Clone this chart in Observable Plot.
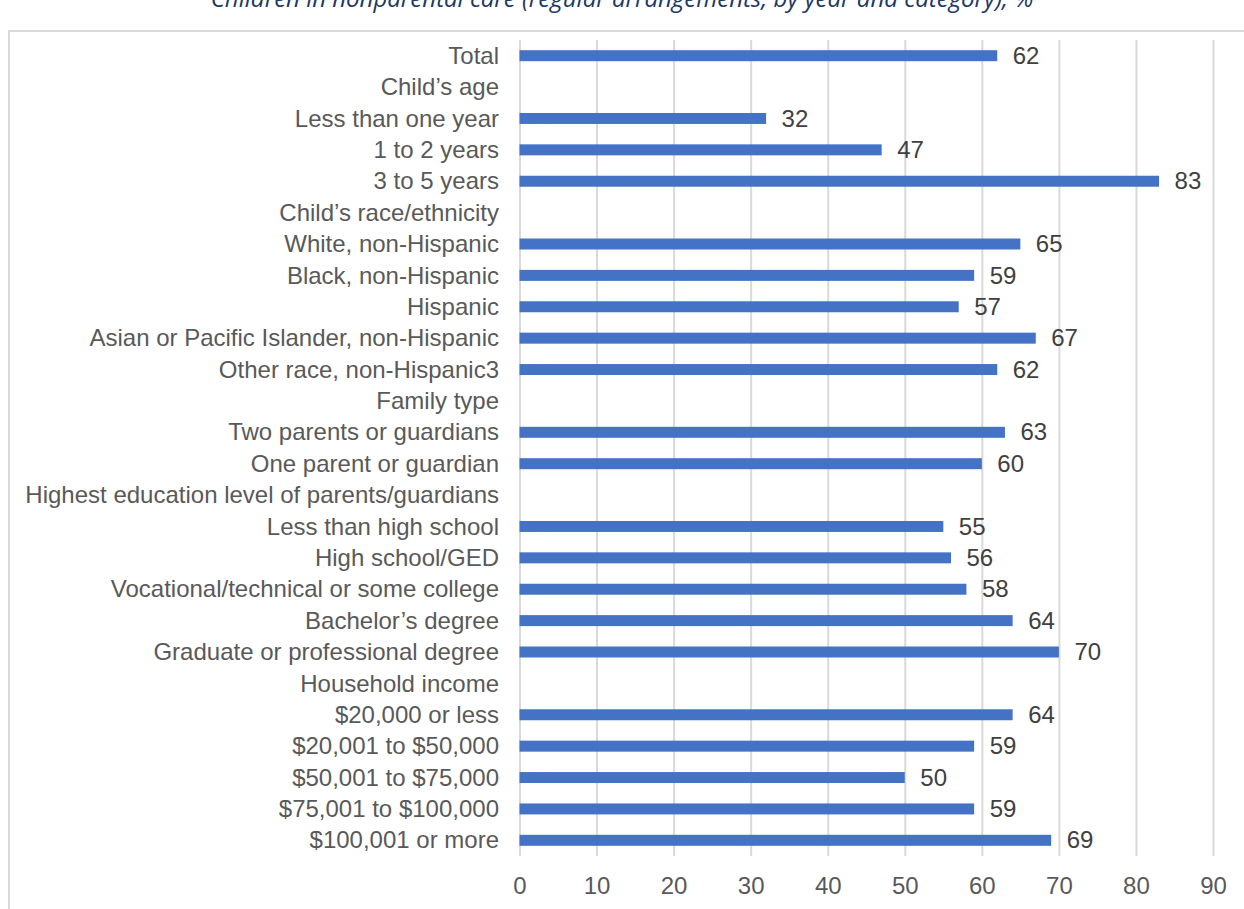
<!DOCTYPE html>
<html>
<head>
<meta charset="utf-8">
<script src="https://cdn.jsdelivr.net/npm/d3@7"></script>
<script src="https://cdn.jsdelivr.net/npm/@observablehq/plot@0.6"></script>
<style>
  html, body { margin: 0; padding: 0; background: #fff; overflow: hidden; }
  #wrap { position: relative; width: 1244px; height: 909px; overflow: hidden; }
  #title { position: absolute; left: 0; width: 1244px; top: -19px; text-align: center;
           font-family: "Open Sans", "Liberation Sans", sans-serif; font-style: italic;
           font-size: 24px; color: #203864; white-space: nowrap; }
  #frame { position: absolute; left: 8px; top: 30px; width: 1260px; height: 900px;
           border: 2px solid #d9d9d9; box-sizing: border-box; }
  #chart { position: absolute; left: 0; top: 0; }
</style>
</head>
<body>
<div id="wrap">
  <div id="title">Children in nonparental care (regular arrangements, by year and category), %</div>
  <div id="frame"></div>
  <div id="chart"></div>
</div>
<script>
const categories = [
  "Total",
  "Child’s age",
  "Less than one year",
  "1 to 2 years",
  "3 to 5 years",
  "Child’s race/ethnicity",
  "White, non-Hispanic",
  "Black, non-Hispanic",
  "Hispanic",
  "Asian or Pacific Islander, non-Hispanic",
  "Other race, non-Hispanic3",
  "Family type",
  "Two parents or guardians",
  "One parent or guardian",
  "Highest education level of parents/guardians",
  "Less than high school",
  "High school/GED",
  "Vocational/technical or some college",
  "Bachelor’s degree",
  "Graduate or professional degree",
  "Household income",
  "$20,000 or less",
  "$20,001 to $50,000",
  "$50,001 to $75,000",
  "$75,001 to $100,000",
  "$100,001 or more"
];
const values = [62, null, 32, 47, 83, null, 65, 59, 57, 67, 62, null, 63, 60, null, 55, 56, 58, 64, 70, null, 64, 59, 50, 59, 69];
const xTicks = [0, 10, 20, 30, 40, 50, 60, 70, 80, 90];

const data = categories.map((c, i) => ({category: c, value: values[i]}));
const bars = data.filter(d => d.value != null);

const chart = Plot.plot({
  width: 1244,
  height: 909,
  marginLeft: 519.5,
  marginRight: 31,
  marginTop: 40,
  marginBottom: 53,
  style: {fontFamily: "'Liberation Sans', Arial, sans-serif", fontSize: "24px", color: "#595959", background: "transparent"},
  x: {domain: [0, 90], ticks: xTicks, tickSize: 0, tickPadding: 20, label: null},
  y: {domain: categories, paddingInner: 0.65, paddingOuter: 0.325, round: false, tickSize: 0, tickPadding: 21, label: null},
  marks: [
    Plot.ruleX(xTicks, {stroke: "#d9d9d9", strokeWidth: 2, strokeOpacity: 1}),
    Plot.barX(bars, {x: "value", y: "category", fill: "#4472C4"}),
    Plot.text(bars, {x: "value", y: "category", text: d => String(d.value), textAnchor: "start", dx: 15, fill: "#404040", fontSize: 24})
  ]
});
document.getElementById("chart").appendChild(chart);
</script>
</body>
</html>
